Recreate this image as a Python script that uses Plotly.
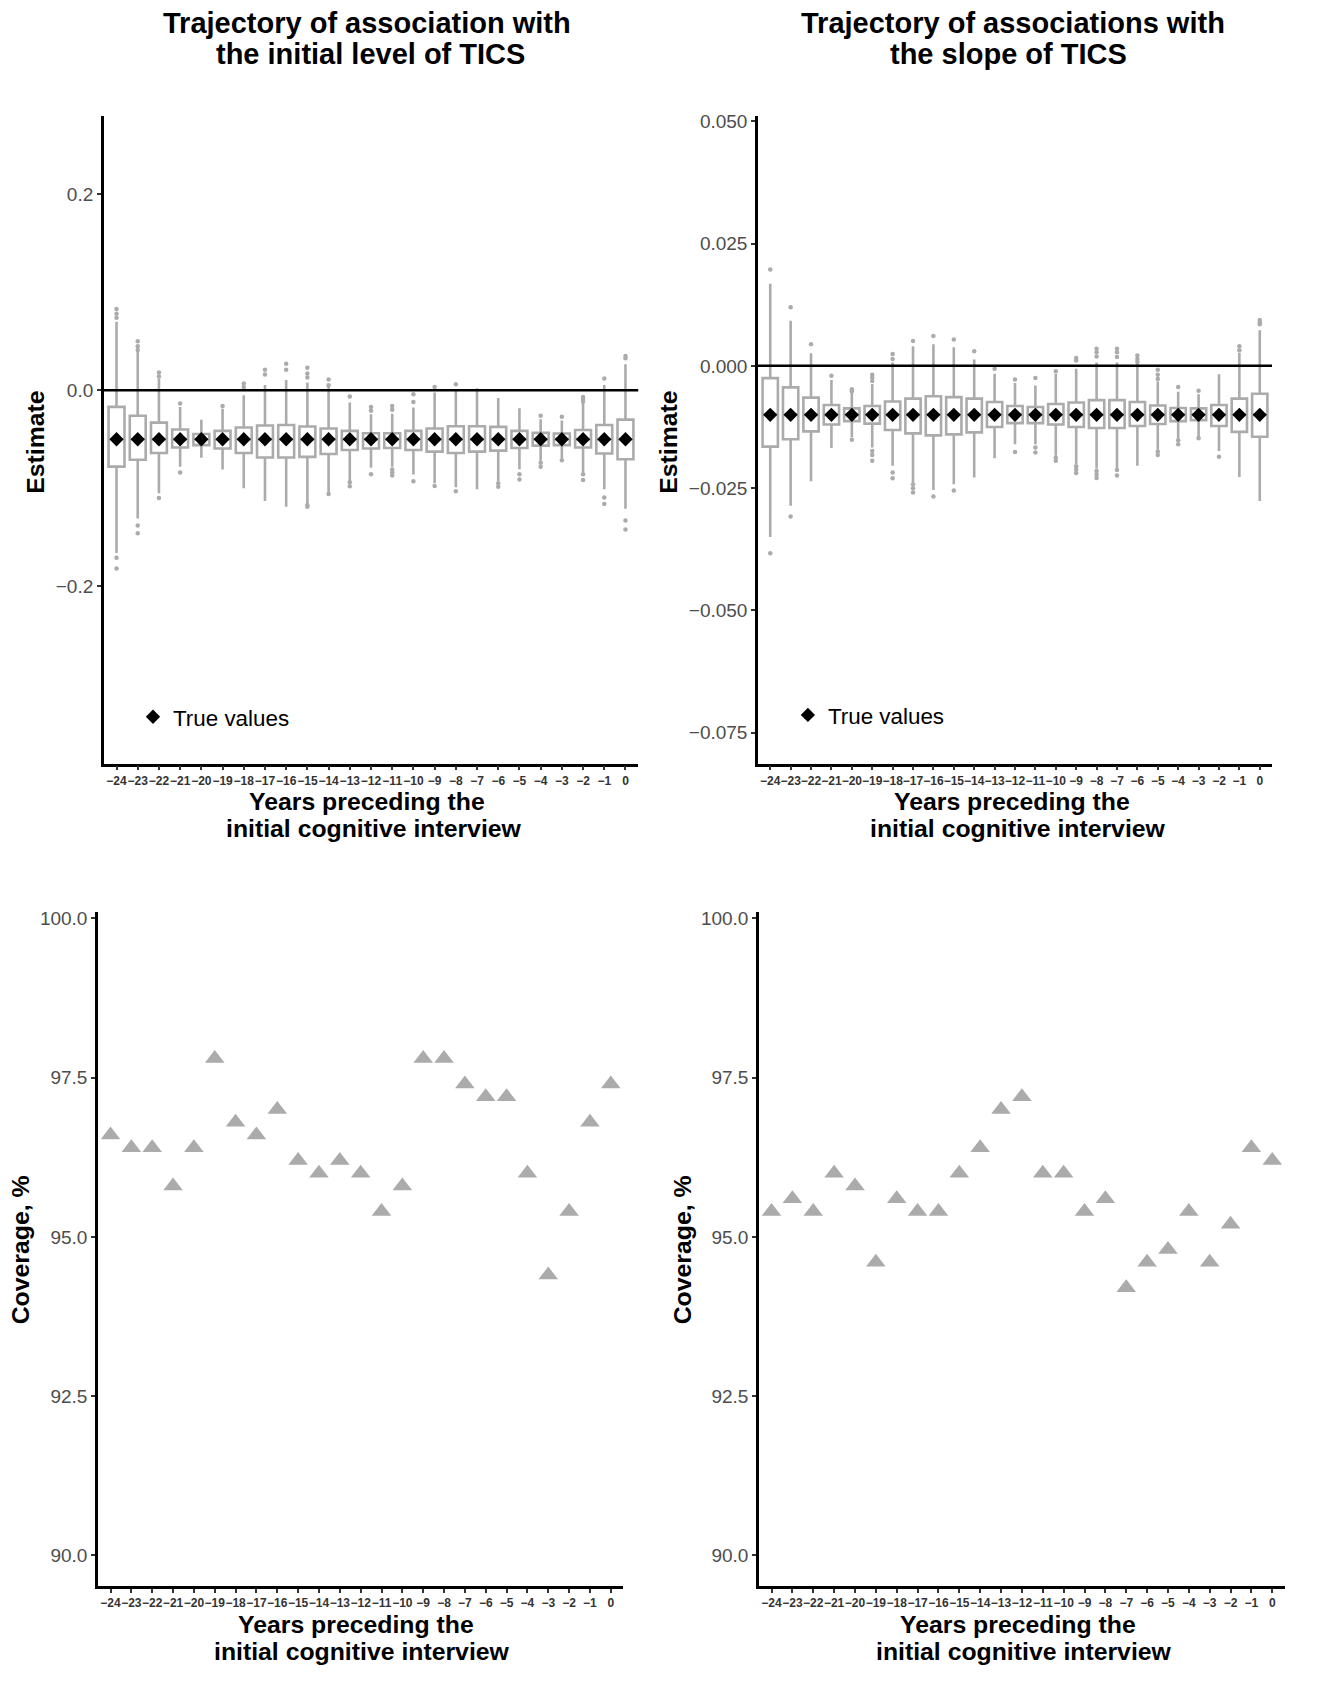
import plotly.graph_objects as go

# ---------------- data ----------------
years = list(range(-24, 1))
year_labels = ["\u2212%d" % abs(y) if y < 0 else "0" for y in years]

true_level = [-0.05] * 25
true_slope = [-0.01] * 25

level_q3 = [-0.017, -0.026, -0.033, -0.040, -0.0446, -0.0415, -0.038, -0.036, -0.0354, -0.037,
            -0.039, -0.0415, -0.0439, -0.0439, -0.0415, -0.039, -0.0367, -0.0367, -0.0374, -0.0415,
            -0.0435, -0.0442, -0.0405, -0.0354, -0.030]
level_q1 = [-0.078, -0.071, -0.064, -0.0585, -0.056, -0.0595, -0.064, -0.0687, -0.0687, -0.068,
            -0.065, -0.061, -0.0595, -0.059, -0.061, -0.0626, -0.064, -0.0626, -0.0616, -0.059,
            -0.0565, -0.056, -0.0585, -0.0646, -0.0704]
level_hi = [0.070, 0.040, 0.012, -0.017, -0.030, -0.019, -0.005, 0.0054, 0.0105, 0.008,
            0.004, -0.0126, -0.0245, -0.024, -0.0177, -0.0024, 0.001, 0.002, -0.008, -0.0184,
            -0.0296, -0.031, -0.0126, 0.0054, 0.0265]
level_lo = [-0.166, -0.131, -0.105, -0.078, -0.069, -0.081, -0.100, -0.113, -0.119, -0.115,
            -0.104, -0.0925, -0.079, -0.078, -0.086, -0.095, -0.099, -0.101, -0.0925, -0.0806,
            -0.072, -0.0694, -0.084, -0.101, -0.121]
level_out = [[0.083, 0.078, 0.074, -0.171, -0.182], [0.050, 0.045, 0.041, -0.138, -0.146],
             [0.018, 0.014, -0.110], [-0.0136, -0.084], [], [-0.016], [0.007, 0.0034],
             [0.021, 0.016], [0.027, 0.021], [0.023, 0.017, 0.013, -0.117, -0.119],
             [0.011, 0.005, -0.106], [-0.0065, -0.094, -0.098], [-0.017, -0.021, -0.0857],
             [-0.016, -0.020, -0.081, -0.084, -0.087], [-0.004, -0.012, -0.093],
             [0.0034, -0.0976], [0.006, -0.103], [], [-0.095, -0.0986], [-0.0857, -0.091],
             [-0.026, -0.074, -0.078], [-0.027, -0.0714],
             [-0.0068, -0.009, -0.0116, -0.0857, -0.0915], [0.012, -0.1095, -0.116],
             [0.035, 0.0327, -0.133, -0.142]]

slope_q3 = [-0.0025, -0.0044, -0.0065, -0.008, -0.0087, -0.0082, -0.0073, -0.0067, -0.0062, -0.0064,
            -0.0067, -0.0074, -0.0082, -0.0084, -0.0078, -0.0075, -0.007, -0.007, -0.0074, -0.0081,
            -0.0086, -0.0087, -0.008, -0.0067, -0.0057]
slope_q1 = [-0.0165, -0.015, -0.0134, -0.012, -0.0113, -0.0118, -0.0131, -0.0138, -0.0142, -0.014,
            -0.0136, -0.0125, -0.0117, -0.0117, -0.012, -0.0125, -0.0127, -0.0127, -0.0123, -0.0119,
            -0.0113, -0.0111, -0.0123, -0.0135, -0.0145]
slope_hi = [0.0168, 0.0092, 0.0026, -0.0029, -0.0054, -0.0037, 0.0007, 0.004, 0.0044, 0.0038,
            0.0013, -0.0016, -0.0035, -0.004, -0.0016, -0.0006, 0.0007, 0.0007, 0.0005, -0.0032,
            -0.0053, -0.0058, -0.0017, 0.0027, 0.0073]
slope_lo = [-0.035, -0.0286, -0.0236, -0.0168, -0.0146, -0.0167, -0.0204, -0.0238, -0.0254, -0.0242,
            -0.0228, -0.0189, -0.016, -0.016, -0.0184, -0.0201, -0.021, -0.021, -0.0204, -0.0171,
            -0.0148, -0.0146, -0.0174, -0.0227, -0.0276]
slope_out = [[0.0197, -0.0383], [0.012, -0.0308], [0.0044], [-0.002], [-0.0048, -0.0052, -0.0151],
             [-0.0018, -0.0024, -0.0031, -0.0174, -0.0182, -0.0194], [0.0024, 0.0014, -0.0218, -0.023],
             [0.0051, -0.0242, -0.025, -0.0259], [0.0061, -0.0267], [0.0054, -0.0255], [0.003],
             [-0.0006], [-0.0028, -0.0176], [-0.0025, -0.0167, -0.0177], [-0.0011, -0.0188, -0.0194],
             [0.0016, 0.0011, -0.0205, -0.0212, -0.0219],
             [0.0035, 0.0028, 0.0019, -0.0215, -0.0222, -0.0229],
             [0.0035, 0.0028, 0.0018, -0.0213, -0.0224], [0.0021, 0.0014, 0.0008],
             [-0.0008, -0.0018, -0.0027, -0.0175, -0.0182], [-0.0043, -0.0152, -0.016],
             [-0.0051, -0.0148], [-0.0186], [0.004, 0.0032], [0.0094, 0.0089, 0.0085]]

cov_level = [96.6, 96.4, 96.4, 95.8, 96.4, 97.8, 96.8, 96.6, 97.0, 96.2, 96.0, 96.2, 96.0,
             95.4, 95.8, 97.8, 97.8, 97.4, 97.2, 97.2, 96.0, 94.4, 95.4, 96.8, 97.4]
cov_slope = [95.4, 95.6, 95.4, 96.0, 95.8, 94.6, 95.6, 95.4, 95.4, 96.0, 96.4, 97.0, 97.2,
             96.0, 96.0, 95.4, 95.6, 94.2, 94.6, 94.8, 95.4, 94.6, 95.2, 96.4, 96.2]

level_ticks = [-0.2, 0.0, 0.2]
slope_ticks = [-0.075, -0.05, -0.025, 0.0, 0.025, 0.05]
cov_ticks = [90.0, 92.5, 95.0, 97.5, 100.0]

# ---------------- styling ----------------
PAGE_W, PAGE_H = 1320, 1704
BODY = 8                      # default page margin around the plot div
W, H = PAGE_W - 2 * BODY, PAGE_H - 2 * BODY
FONT = "Liberation Sans"
GREY = "#ABABAB"
DX, DY = 1.5, -3.0            # fine placement of the panels


def px(x0, x1):
    return [(x0 + DX - BODY) / W, (x1 + DX - BODY) / W]


def py(top, bottom):
    return [1 - (bottom + DY - BODY) / H, 1 - (top + DY - BODY) / H]


fig = go.Figure()


def add_boxes(xa, ya, q1, q3, lo, hi, med, outs):
    fig.add_trace(go.Box(
        x=years, q1=q1, median=med, q3=q3, lowerfence=lo, upperfence=hi,
        boxpoints=False, fillcolor="white", line=dict(color=GREY, width=2.6),
        width=0.75, whiskerwidth=0, xaxis=xa, yaxis=ya, showlegend=False,
        hoverinfo="skip"))
    ox, oy = [], []
    for yr, vals in zip(years, outs):
        for v in vals:
            ox.append(yr)
            oy.append(v)
    fig.add_trace(go.Scatter(
        x=ox, y=oy, mode="markers", marker=dict(color=GREY, size=4.5),
        xaxis=xa, yaxis=ya, showlegend=False, hoverinfo="skip"))


add_boxes("x", "y", level_q1, level_q3, level_lo, level_hi, true_level, level_out)
fig.add_trace(go.Scatter(x=years, y=true_level, mode="markers", name="True values",
                         marker=dict(symbol="diamond", color="black", size=11),
                         xaxis="x", yaxis="y", legend="legend", showlegend=True))
add_boxes("x2", "y2", slope_q1, slope_q3, slope_lo, slope_hi, true_slope, slope_out)
fig.add_trace(go.Scatter(x=years, y=true_slope, mode="markers", name="True values",
                         marker=dict(symbol="diamond", color="black", size=11),
                         xaxis="x2", yaxis="y2", legend="legend2", showlegend=True))

fig.add_trace(go.Scatter(x=years, y=cov_level, mode="markers",
                         marker=dict(symbol="triangle-up", color=GREY, size=17),
                         xaxis="x3", yaxis="y3", showlegend=False))
fig.add_trace(go.Scatter(x=years, y=cov_slope, mode="markers",
                         marker=dict(symbol="triangle-up", color=GREY, size=17),
                         xaxis="x4", yaxis="y4", showlegend=False))

xcommon = dict(range=[-24.6, 0.6], tickvals=years, ticktext=year_labels, tickangle=0,
               showline=True, linecolor="black", linewidth=2.5, ticks="outside",
               ticklen=4, tickwidth=2, tickcolor="#333333", showgrid=False, zeroline=False,
               tickfont=dict(family=FONT, size=12, color="#333333", weight="bold"),
               fixedrange=True)
ycommon = dict(showline=True, linecolor="black", linewidth=2.5, ticks="outside",
               ticklen=4, tickwidth=2, tickcolor="#333333", showgrid=False, zeroline=False,
               tickfont=dict(family=FONT, size=19, color="#4D4D4D"), fixedrange=True)

fig.update_layout(
    width=W, height=H, margin=dict(l=0, r=0, t=0, b=0),
    paper_bgcolor="white", plot_bgcolor="white",
    font=dict(family=FONT, color="black"),
    xaxis=dict(domain=px(102.3, 636.7), anchor="y", **xcommon),
    yaxis=dict(domain=py(114.2, 763.8), anchor="x", range=[-0.381, 0.280],
               tickvals=level_ticks, tickformat=".1f", **ycommon),
    xaxis2=dict(domain=px(756.5, 1270.5), anchor="y2", **xcommon),
    yaxis2=dict(domain=py(114.2, 763.8), anchor="x2", range=[-0.0813, 0.0511],
                tickvals=slope_ticks, tickformat=".3f", **ycommon),
    xaxis3=dict(domain=px(96.5, 621.8), anchor="y3", **xcommon),
    yaxis3=dict(domain=py(912.8, 1588.5), anchor="x3", range=[89.52, 100.10],
                tickvals=cov_ticks, tickformat=".1f", **ycommon),
    xaxis4=dict(domain=px(757.5, 1283.3), anchor="y4", **xcommon),
    yaxis4=dict(domain=py(912.8, 1588.5), anchor="x4", range=[89.52, 100.10],
                tickvals=cov_ticks, tickformat=".1f", **ycommon),
    legend=dict(x=(133 - BODY) / W, y=1 - (714.3 - BODY) / H, xanchor="left", yanchor="middle",
                font=dict(family=FONT, size=22.4, color="black"), bgcolor="rgba(0,0,0,0)",
                itemclick=False, itemdoubleclick=False),
    legend2=dict(x=(787.9 - BODY) / W, y=1 - (712.5 - BODY) / H, xanchor="left", yanchor="middle",
                 font=dict(family=FONT, size=22.4, color="black"), bgcolor="rgba(0,0,0,0)",
                 itemclick=False, itemdoubleclick=False),
    showlegend=True,
)

for xa, ya in (("x", "y"), ("x2", "y2")):
    fig.add_shape(type="line", xref=f"{xa} domain", yref=ya, x0=0, x1=1, y0=0, y1=0,
                  line=dict(color="black", width=2.5), layer="above")

annots = []


def text(x, y, s, size, angle=0):
    annots.append(dict(x=(x - BODY) / W, y=1 - (y - BODY) / H, xref="paper", yref="paper",
                       text=s, showarrow=False, xanchor="center", yanchor="middle",
                       textangle=angle,
                       font=dict(family=FONT, size=size, color="black", weight="bold")))


# panel titles
text(367, 18, "Trajectory of association with", 29)
text(370, 49, "the initial level of TICS", 29)
text(1013, 18, "Trajectory of associations with", 29)
text(1008, 49, "the slope of TICS", 29)
# x-axis titles
for cx1, cx2, y1, y2 in ((367, 374, 798.5, 825.5), (1012, 1018, 798.5, 825.5),
                         (356, 362, 1624, 1651), (1017.5, 1024, 1624, 1651)):
    text(cx1, y1, "Years preceding the", 24.8)
    text(cx2, y2, "initial cognitive interview", 24.8)
# y-axis titles
text(36, 439, "Estimate", 24.8, -90)
text(669, 439, "Estimate", 24.8, -90)
text(20, 1249, "Coverage, %", 24.8, -90)
text(682, 1249, "Coverage, %", 24.8, -90)

fig.update_layout(annotations=annots)

fig.write_html("out.html")
